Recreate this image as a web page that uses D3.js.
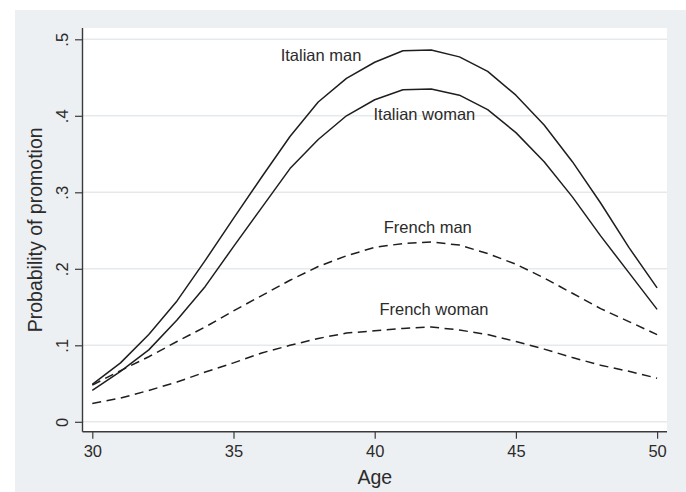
<!DOCTYPE html>
<html>
<head>
<meta charset="utf-8">
<script src="https://cdn.jsdelivr.net/npm/d3@7"></script>
<style>
  html, body { margin: 0; padding: 0; background: #ffffff; }
  svg { display: block; font-family: "Liberation Sans", Arial, Helvetica, sans-serif; }
</style>
</head>
<body>
<svg id="chart" width="686" height="492"></svg>
<script>
// Predicted probability of promotion by age
const ages = [30, 31, 32, 33, 34, 35, 36, 37, 38, 39, 40, 41, 42, 43, 44, 45, 46, 47, 48, 49, 50];
const italianMan   = [.049, .077, .114, .158, .211, .266, .320, .373, .418, .449, .470, .485, .486, .477, .458, .427, .388, .340, .286, .228, .175];
const italianWoman = [.041, .066, .094, .133, .177, .229, .280, .331, .369, .400, .421, .434, .435, .427, .408, .378, .340, .294, .243, .195, .147];
const frenchMan    = [.048, .067, .085, .105, .124, .145, .165, .185, .203, .217, .228, .233, .235, .231, .220, .206, .188, .168, .148, .131, .114];
const frenchWoman  = [.024, .031, .041, .052, .065, .077, .090, .100, .109, .116, .119, .122, .124, .120, .114, .105, .095, .084, .074, .066, .057];

const seriesNames = ["Italian man", "Italian woman", "French man", "French woman"];
const seriesDashed = [false, false, true, true];

// curve labels, placed in data coordinates (age, probability)
const labelAge  = [38.1, 41.76, 41.88, 42.1];
const labelProb = [.479, .402, .2546, .147];

const xTicks = [30, 35, 40, 45, 50];
const yTicks = [0, .1, .2, .3, .4, .5];
const yTickLabels = ["0", ".1", ".2", ".3", ".4", ".5"];

const svg = d3.select("#chart");

// graph region and plot region
svg.append("rect").attr("x", 15).attr("y", 10).attr("width", 671).attr("height", 482).attr("fill", "#edf0f3");
const plot = { left: 82.5, right: 667, top: 28, bottom: 431.7 };
svg.append("rect")
  .attr("x", plot.left).attr("y", plot.top)
  .attr("width", plot.right - plot.left).attr("height", plot.bottom - plot.top)
  .attr("fill", "#ffffff");

const x = d3.scaleLinear().domain([30, 50]).range([92.3, 657.1]);
const y = d3.scaleLinear().domain([0, .5]).range([421.8, 39.3]);

// horizontal grid lines
svg.append("g").selectAll("line").data(yTicks).join("line")
  .attr("x1", plot.left).attr("x2", plot.right)
  .attr("y1", d => y(d)).attr("y2", d => y(d))
  .attr("stroke", "#e6e9ec").attr("stroke-width", 1.6);

// y axis
const yAxis = svg.append("g")
  .attr("transform", `translate(${plot.left},0)`)
  .call(d3.axisLeft(y).tickValues(yTicks).tickSize(7.5)
        .tickFormat((d, i) => yTickLabels[i]));
yAxis.select(".domain").attr("d", `M0,${plot.top}V${plot.bottom}`);
yAxis.selectAll(".tick text")
  .attr("x", 0).attr("dy", 0).attr("y", -14.5)
  .attr("transform", "rotate(-90)")
  .attr("text-anchor", "middle");

// x axis
const xAxis = svg.append("g")
  .attr("transform", `translate(0,${plot.bottom})`)
  .call(d3.axisBottom(x).tickValues(xTicks).tickSize(7));
xAxis.select(".domain").attr("d", `M${plot.left},0H${plot.right}`);
xAxis.selectAll(".tick text").attr("y", 13.5).attr("dy", "0.71em");

[yAxis, xAxis].forEach(g => {
  g.select(".domain").attr("stroke", "#3a3a3a").attr("stroke-width", 1.4);
  g.selectAll(".tick line").attr("stroke", "#3a3a3a").attr("stroke-width", 1.2);
  g.selectAll(".tick text").attr("fill", "#2b2b2b")
    .style("font-size", "16.5px").style("font-family", "'Liberation Sans', Arial, sans-serif");
});

// axis titles
svg.append("text")
  .attr("x", (plot.left + plot.right) / 2).attr("y", 484)
  .attr("text-anchor", "middle").attr("fill", "#2b2b2b")
  .style("font-size", "19.5px").text("Age");
svg.append("text")
  .attr("transform", `translate(42,${(plot.top + plot.bottom) / 2}) rotate(-90)`)
  .attr("text-anchor", "middle").attr("fill", "#2b2b2b")
  .style("font-size", "19.5px").text("Probability of promotion");

// curves
const series = [italianMan, italianWoman, frenchMan, frenchWoman];
const line = d3.line().x((d, i) => x(ages[i])).y(d => y(d)).curve(d3.curveLinear);
svg.append("g").selectAll("path").data(series).join("path")
  .attr("d", d => line(d))
  .attr("fill", "none")
  .attr("stroke", "#1e1e1e")
  .attr("stroke-width", 1.5)
  .attr("stroke-linejoin", "round")
  .attr("stroke-dasharray", (d, i) => seriesDashed[i] ? "9,5.5" : null);

// curve labels
svg.append("g").selectAll("text").data(seriesNames).join("text")
  .attr("x", (d, i) => x(labelAge[i]))
  .attr("y", (d, i) => y(labelProb[i]))
  .attr("dy", "0.36em")
  .attr("text-anchor", "middle")
  .attr("fill", "#2b2b2b")
  .style("font-size", "16.5px")
  .text(d => d);
</script>
</body>
</html>
